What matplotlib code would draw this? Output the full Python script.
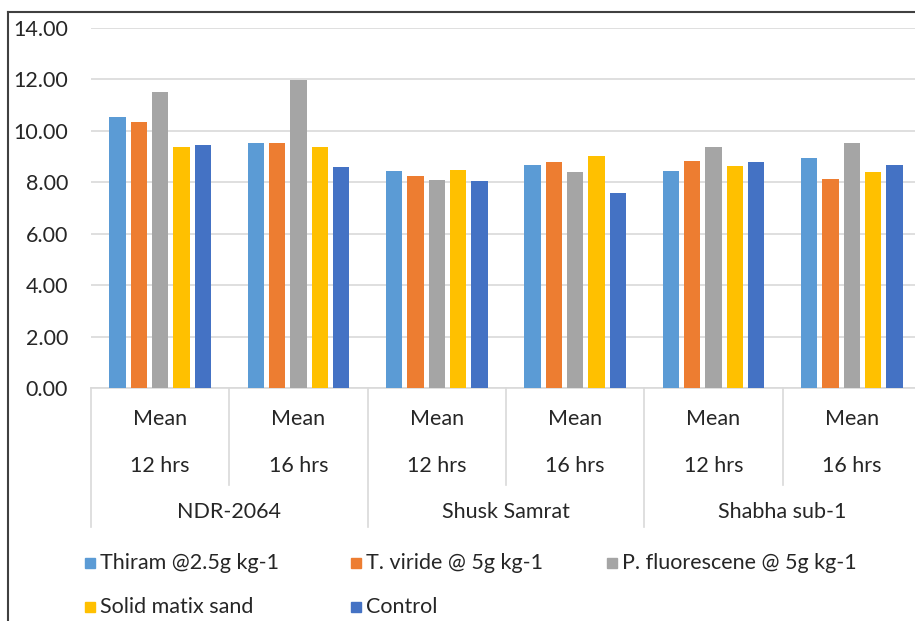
import matplotlib
matplotlib.use("Agg")
import matplotlib.pyplot as plt
from matplotlib.patches import Rectangle
import numpy as np

plt.rcParams['font.family'] = ['Lato', 'DejaVu Sans']

# treatments (one bar series each)
treatments = ["Thiram @2.5g kg-1", "T. viride @ 5g kg-1", "P. fluorescene @ 5g kg-1",
              "Solid matix sand", "Control"]
colors = ["#5B9BD5", "#ED7D31", "#A5A5A5", "#FFC000", "#4472C4"]

# category axis: variety -> duration, each labelled "Mean"
varieties = ["NDR-2064", "Shusk Samrat", "Shabha sub-1"]
durations = ["12 hrs", "16 hrs"]
stat_label = "Mean"

# mean values per treatment for NDR 12/16, Shusk 12/16, Shabha 12/16
thiram = [10.53, 9.53, 8.43, 8.69, 8.43, 8.94]
t_viride = [10.34, 9.53, 8.24, 8.79, 8.83, 8.14]
p_fluorescene = [11.50, 11.96, 8.08, 8.39, 9.39, 9.53]
solid_matrix = [9.38, 9.38, 8.49, 9.04, 8.64, 8.39]
control = [9.44, 8.59, 8.04, 7.60, 8.78, 8.69]
series = [thiram, t_viride, p_fluorescene, solid_matrix, control]

W, H = 915, 621
FS = 15.5
TXT = "#262626"
fig = plt.figure(figsize=(W / 100, H / 100), dpi=100)

# plot area in pixels: left 91, right 921 (runs past the right edge), top 28, bottom 388
ax = fig.add_axes([91 / W, (H - 388) / H, (921 - 91) / W, (388 - 28) / H])

n_cat = len(varieties) * len(durations)
x = np.arange(n_cat)
step = 0.154
bar_w = 0.118
for i, (vals, col) in enumerate(zip(series, colors)):
    ax.bar(x + (i - 2) * step, vals, width=bar_w, color=col, zorder=3)

ax.set_xlim(-0.5, n_cat - 0.5)
ax.set_ylim(0, 14)
ax.set_yticks(np.arange(0, 15, 2))
ax.set_yticklabels([f"{v:.2f}" for v in np.arange(0, 15, 2)])
ax.tick_params(axis='y', length=0, pad=16.5, labelsize=FS, labelcolor=TXT)
ax.set_xticks([])
ax.grid(axis='y', color="#D9D9D9", linewidth=1.2, zorder=0)
for s in ["top", "right", "left"]:
    ax.spines[s].set_visible(False)
ax.spines["bottom"].set_color("#D9D9D9")
ax.spines["bottom"].set_linewidth(1.2)

# multi-level category table under the axis
tr = ax.get_xaxis_transform()
px = 1 / 360  # one pixel in axes fraction (vertical)
line_kw = dict(color="#D9D9D9", linewidth=1.2, transform=tr, clip_on=False)
for b in np.arange(-0.5, n_cat, 2):
    ax.plot([b, b], [0, -(527 - 388) * px], **line_kw)
for b in np.arange(0.5, n_cat, 2):
    ax.plot([b, b], [0, -(485 - 388) * px], **line_kw)

txt_kw = dict(transform=tr, ha="center", va="center", fontsize=FS, color=TXT, clip_on=False)
for c in range(n_cat):
    ax.text(c, -(419 - 388) * px, stat_label, **txt_kw)
    ax.text(c, -(466 - 388) * px, durations[c % 2], **txt_kw)
for g, name in enumerate(varieties):
    ax.text(2 * g + 0.5, -(512 - 388) * px, name, **txt_kw)

# legend laid out in rows like the spreadsheet legend
legend_pos = [(85, 563), (351, 563), (607, 563), (85, 607), (351, 607)]
for (lx, ly), name, col in zip(legend_pos, treatments, colors):
    fig.patches.append(Rectangle((lx / W, (H - ly - 5) / H), 10 / W, 10 / H,
                                 transform=fig.transFigure, color=col))
    fig.text((lx + 15) / W, (H - ly) / H, name, ha="left", va="center",
             fontsize=FS, color=TXT)

# chart border (left and top visible)
fig.add_artist(plt.Line2D([8 / W, 8 / W], [0, (H - 12) / H], color="#404040", linewidth=1.5))
fig.add_artist(plt.Line2D([8 / W, 1], [(H - 12) / H, (H - 12) / H], color="#404040", linewidth=1.5))

fig.savefig("out.png", dpi=100)
